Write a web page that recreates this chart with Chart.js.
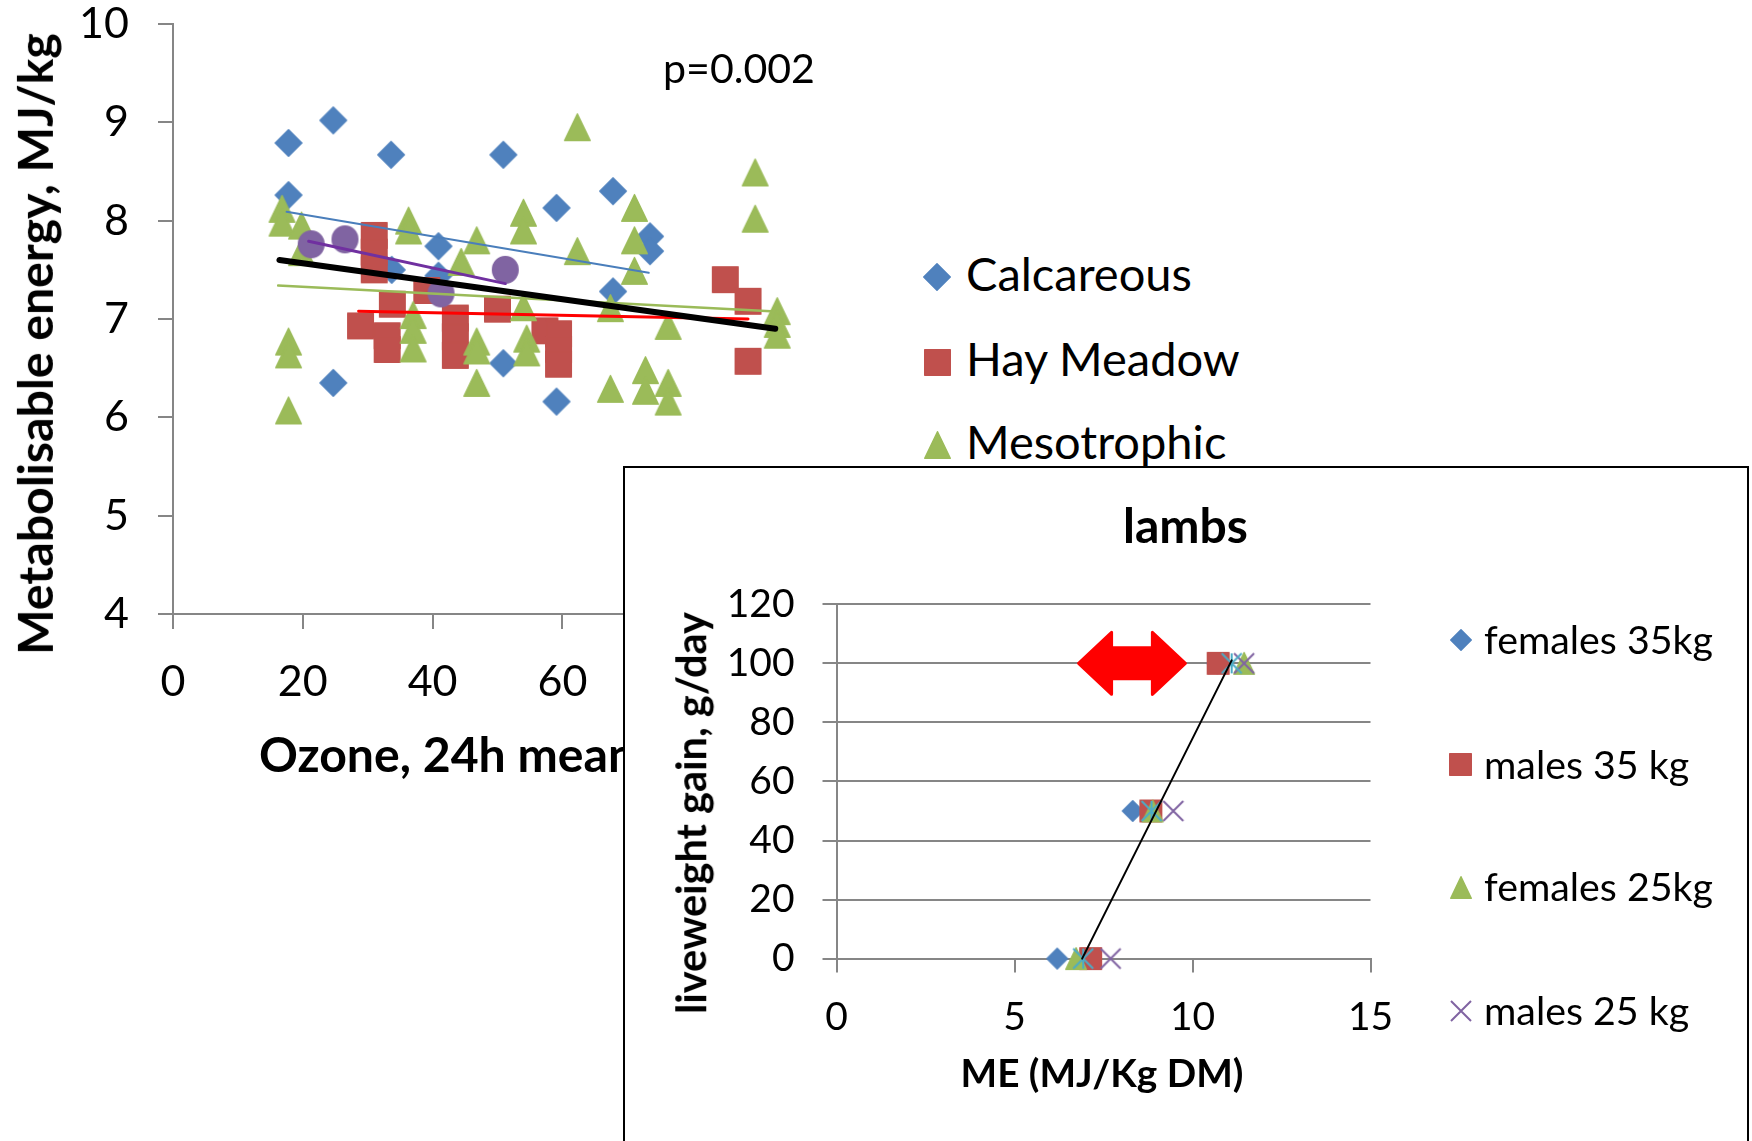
<!DOCTYPE html>
<html>
<head>
<meta charset="utf-8">
<script src="https://cdn.jsdelivr.net/npm/chart.js@4.4.1/dist/chart.umd.min.js"></script>
<style>
html,body{margin:0;padding:0;background:#fff;}
body{width:1752px;height:1141px;position:relative;overflow:hidden;font-family:Lato,"DejaVu Sans",sans-serif;}
#mainWrap{position:absolute;left:0;top:-40px;width:900px;height:860px;z-index:0;}
#inset{position:absolute;left:623px;top:466px;width:1122px;height:700px;border:2px solid #000;background:#fff;z-index:5;}
#insetWrap{position:absolute;left:0;top:0;width:1122px;height:680px;}
.t{position:absolute;white-space:nowrap;line-height:1;color:#000;font-family:Lato,"DejaVu Sans",sans-serif;}
.mk{position:absolute;}
</style>
</head>
<body>
<div id="mainWrap"><canvas id="mainChart" width="900" height="860"></canvas></div>
<div id="inset"><div id="insetWrap"><canvas id="insetChart" width="1122" height="680"></canvas></div></div>
<script>
// ---------------- DATA: main chart (ozone vs metabolisable energy) ----------------
const mainSeriesNames = ['Calcareous', 'Hay Meadow', 'Mesotrophic'];
const xTicksMain = [0, 20, 40, 60, 80, 100];
const yTicksMain = [4, 5, 6, 7, 8, 9, 10];

const calcOzone = [17.8, 17.8, 24.7, 24.7, 33.6, 33.7, 40.9, 40.9, 50.9, 50.9, 59.1, 59.1, 67.8, 67.8, 73.5, 73.5];
const calcME    = [8.79, 8.26, 9.02, 6.35, 8.67, 7.50, 7.74, 7.44, 8.67, 6.55, 8.13, 6.16, 8.30, 7.28, 7.84, 7.69];

const hayOzone = [28.9, 31.0, 31.0, 31.0, 33.0, 33.0, 33.8, 39.1, 43.5, 43.5, 43.5, 50.0, 57.3, 59.4, 59.4, 59.4, 85.1, 88.6, 88.6];
const hayME    = [6.93, 7.85, 7.68, 7.50, 6.83, 6.69, 7.15, 7.29, 7.01, 6.82, 6.63, 7.10, 6.88, 6.85, 6.69, 6.54, 7.40, 7.18, 6.57];

const mesoOzone = [16.8, 16.8, 19.8, 19.8, 17.8, 17.8, 17.8, 36.3, 36.3, 37.0, 37.0, 37.0, 44.4, 46.8, 46.8, 46.8, 46.8,
                   54.0, 54.0, 54.0, 54.5, 54.5, 62.3, 62.3, 67.4, 67.4, 71.1, 71.1, 71.1, 72.8, 72.8, 76.3, 76.3, 76.3,
                   89.7, 89.7, 93.1, 93.1, 93.1];
const mesoME    = [8.12, 7.98, 7.95, 7.68, 6.77, 6.64, 6.07, 8.00, 7.90, 7.04, 6.89, 6.70, 7.58, 7.80, 6.77, 6.68, 6.35,
                   8.08, 7.90, 7.12, 6.80, 6.66, 8.95, 7.69, 7.11, 6.29, 8.13, 7.80, 7.49, 6.48, 6.27, 6.93, 6.35, 6.16,
                   8.49, 8.02, 7.08, 6.95, 6.84];

const fourthOzone = [21.3, 26.5, 41.3, 51.2];
const fourthME    = [7.76, 7.81, 7.26, 7.50];

// trend lines (end points)
const calcTrendX = [17.5, 73.3],  calcTrendY = [8.09, 7.47];
const hayTrendX  = [28.6, 88.6],  hayTrendY  = [7.08, 7.00];
const mesoTrendX = [16.2, 92.1],  mesoTrendY = [7.34, 7.08];
const fourthTrendX = [20.9, 51.2], fourthTrendY = [7.79, 7.36];
const allTrendX  = [16.4, 92.8],  allTrendY  = [7.60, 6.90];
const pValueText = 'p=0.002';

// ---------------- DATA: inset chart (lambs) ----------------
const insetSeriesNames = ['females 35kg', 'males 35 kg', 'females 25kg', 'males 25 kg'];
const xTicksInset = [0, 5, 10, 15];
const yTicksInset = [0, 20, 40, 60, 80, 100, 120];
const gainLevels = [0, 50, 100];
const fem35ME  = [6.20, 8.32, 10.70];
const male35ME = [7.14, 8.83, 10.72];
const fem25ME  = [6.73, 8.88, 11.45];
const male25ME = [7.70, 9.46, 11.45];
const fifthME  = [6.93, 8.85, 11.10];
const fitLineME = [6.9, 11.1], fitLineGain = [0, 101];
const arrowME = [6.8, 9.8], arrowGain = 100;

// ---------------- helpers ----------------
const AXIS_GRAY = '#868686';
const pts = (xs, ys) => xs.map((x, i) => ({x: x, y: ys[i]}));

function marker(shape, w, h, color, lw) {
  const pad = 3;
  const c = document.createElement('canvas');
  c.width = Math.ceil(w + pad * 2); c.height = Math.ceil(h + pad * 2);
  const g = c.getContext('2d');
  const cx = c.width / 2, cy = c.height / 2;
  g.fillStyle = color; g.strokeStyle = color; g.lineJoin = 'round'; g.lineCap = 'butt';
  const sw = 1.5; // soft edge
  g.lineWidth = sw;
  const W = w - sw, H = h - sw;
  g.beginPath();
  if (shape === 'diamond') {
    g.moveTo(cx, cy - H / 2); g.lineTo(cx + W / 2, cy); g.lineTo(cx, cy + H / 2); g.lineTo(cx - W / 2, cy); g.closePath();
    g.fill(); g.stroke();
  } else if (shape === 'square') {
    g.rect(cx - W / 2, cy - H / 2, W, H); g.fill(); g.stroke();
  } else if (shape === 'triangle') {
    g.moveTo(cx, cy - H / 2); g.lineTo(cx + W / 2, cy + H / 2); g.lineTo(cx - W / 2, cy + H / 2); g.closePath();
    g.fill(); g.stroke();
  } else if (shape === 'circle') {
    g.ellipse(cx, cy, W / 2, H / 2, 0, 0, Math.PI * 2); g.fill(); g.stroke();
  } else if (shape === 'x' || shape === 'star') {
    g.lineWidth = lw || 2;
    g.moveTo(cx - w / 2, cy - h / 2); g.lineTo(cx + w / 2, cy + h / 2);
    g.moveTo(cx + w / 2, cy - h / 2); g.lineTo(cx - w / 2, cy + h / 2);
    if (shape === 'star') { g.moveTo(cx, cy - h / 2); g.lineTo(cx, cy + h / 2); }
    g.stroke();
  }
  return c;
}

const C_BLUE = '#4F81BD', C_RED = '#C0504D', C_GREEN = '#9BBB59', C_PURPLE = '#8064A2', C_CYAN = '#4BACC6';

const mDia = marker('diamond', 28, 28, C_BLUE);
const mSq  = marker('square', 27, 27, C_RED);
const mTri = marker('triangle', 27, 28, C_GREEN);
const mCir = marker('circle', 27, 28, C_PURPLE);

const iDia = marker('diamond', 22, 22, C_BLUE);
const iSq  = marker('square', 23, 23, C_RED);
const iTri = marker('triangle', 22, 23, C_GREEN);
const iX   = marker('x', 20, 20, C_PURPLE, 2);
const iStar = marker('star', 20, 20, C_CYAN, 2);

Chart.defaults.font.family = 'Lato';
Chart.defaults.color = '#000';

function lineDs(label, xs, ys, color, width, order) {
  return {label: label, data: pts(xs, ys), showLine: true, borderColor: color, backgroundColor: color,
          borderWidth: width, pointRadius: 0, pointHoverRadius: 0, order: order, borderCapStyle: 'round', clip: false};
}
function markDs(label, xs, ys, img, order) {
  return {label: label, data: pts(xs, ys), pointStyle: img, pointRadius: 10, pointHoverRadius: 10, order: order, clip: false};
}
function axis(min, max, ticks, fontSize, pad, tickLen, onArea, fitProp, fitVal) {
  return {
    type: 'linear', min: min, max: max,
    afterBuildTicks: s => { s.ticks = ticks.map(v => ({value: v})); },
    ticks: {font: {size: fontSize, family: 'Lato'}, color: '#000', padding: pad, autoSkip: false, maxRotation: 0},
    grid: {drawOnChartArea: onArea, drawTicks: true, tickLength: tickLen, tickWidth: 2, tickColor: AXIS_GRAY, color: AXIS_GRAY, lineWidth: 2},
    border: {display: true, color: AXIS_GRAY, width: 2},
    afterFit: s => { s[fitProp] = fitVal; }
  };
}

// ---------------- main chart ----------------
new Chart(document.getElementById('mainChart'), {
  type: 'scatter',
  data: {datasets: [
    lineDs('all sites trend', allTrendX, allTrendY, '#000000', 6, 0),
    lineDs('', fourthTrendX, fourthTrendY, '#7030A0', 3, 1),
    lineDs(mainSeriesNames[2] + ' trend', mesoTrendX, mesoTrendY, '#9BBB59', 2.5, 2),
    lineDs(mainSeriesNames[1] + ' trend', hayTrendX, hayTrendY, '#FF0000', 3, 3),
    lineDs(mainSeriesNames[0] + ' trend', calcTrendX, calcTrendY, '#4A7EBB', 2, 4),
    markDs('', fourthOzone, fourthME, mCir, 5),
    markDs(mainSeriesNames[2], mesoOzone, mesoME, mTri, 6),
    markDs(mainSeriesNames[1], hayOzone, hayME, mSq, 7),
    markDs(mainSeriesNames[0], calcOzone, calcME, mDia, 8)
  ]},
  options: {
    responsive: false, devicePixelRatio: 1, animation: false, events: [],
    layout: {padding: {left: 0, top: 64, right: 78, bottom: 0}},
    plugins: {legend: {display: false}, tooltip: {enabled: false}},
    scales: {
      x: axis(0, 100, xTicksMain, 43, 27, 15, false, 'height', 206),
      y: axis(4, 10, yTicksMain, 43, 29, 15, false, 'width', 173)
    }
  }
});

// ---------------- inset chart ----------------
const arrowPlugin = {
  id: 'rangeArrow',
  afterDatasetsDraw(chart) {
    const ctx = chart.ctx, xs = chart.scales.x, ys = chart.scales.y;
    const x1 = xs.getPixelForValue(arrowME[0]), x2 = xs.getPixelForValue(arrowME[1]);
    const yc = ys.getPixelForValue(arrowGain);
    const hl = 33, hh = 31, sh = 15.5;
    ctx.save();
    ctx.beginPath();
    ctx.moveTo(x1, yc); ctx.lineTo(x1 + hl, yc - hh); ctx.lineTo(x1 + hl, yc - sh); ctx.lineTo(x2 - hl, yc - sh);
    ctx.lineTo(x2 - hl, yc - hh); ctx.lineTo(x2, yc); ctx.lineTo(x2 - hl, yc + hh); ctx.lineTo(x2 - hl, yc + sh);
    ctx.lineTo(x1 + hl, yc + sh); ctx.lineTo(x1 + hl, yc + hh); ctx.closePath();
    ctx.fillStyle = '#FF0000'; ctx.strokeStyle = '#FF0000'; ctx.lineWidth = 3; ctx.lineJoin = 'round';
    ctx.fill(); ctx.stroke();
    ctx.restore();
  }
};

new Chart(document.getElementById('insetChart'), {
  type: 'scatter',
  data: {datasets: [
    lineDs('', fitLineME, fitLineGain, '#000000', 2, 0),
    markDs('', fifthME, gainLevels, iStar, 1),
    markDs(insetSeriesNames[3], male25ME, gainLevels, iX, 2),
    markDs(insetSeriesNames[2], fem25ME, gainLevels, iTri, 3),
    markDs(insetSeriesNames[1], male35ME, gainLevels, iSq, 4),
    markDs(insetSeriesNames[0], fem35ME, gainLevels, iDia, 5)
  ]},
  options: {
    responsive: false, devicePixelRatio: 1, animation: false, events: [],
    layout: {padding: {left: 0, top: 136.3, right: 376.5, bottom: 0}},
    plugins: {legend: {display: false}, tooltip: {enabled: false}},
    scales: {
      x: axis(0, 15, xTicksInset, 39, 21, 14, false, 'height', 189.4),
      y: axis(0, 120, yTicksInset, 39, 28, 14, true, 'width', 211.5)
    }
  },
  plugins: [arrowPlugin]
});

// ---------------- texts & legends (HTML) ----------------
const mctx = document.createElement('canvas').getContext('2d');
function fitSize(str, bold, target) {
  mctx.font = (bold ? '700 ' : '400 ') + '100px Lato';
  return 100 * target / mctx.measureText(str).width;
}
function addText(str, o) {
  const d = document.createElement('div');
  d.className = 't';
  d.textContent = str;
  d.style.fontSize = o.fs + 'px';
  d.style.fontWeight = o.bold ? '700' : '400';
  d.style.zIndex = o.z;
  if (o.rot) {
    d.style.left = (o.cx - 0.03 * o.fs) + 'px';
    d.style.top = o.cy + 'px';
    d.style.transform = 'translate(-50%,-50%) rotate(-90deg)';
  } else if (o.cx !== undefined) {
    d.style.left = o.cx + 'px';
    d.style.top = (o.cy - 0.53 * o.fs) + 'px';
    d.style.transform = 'translateX(-50%)';
  } else {
    d.style.left = o.x + 'px';
    d.style.top = (o.cy - 0.53 * o.fs) + 'px';
  }
  document.body.appendChild(d);
}
function addMarker(img, cx, cy, z) {
  const c = document.createElement('canvas');
  c.width = img.width; c.height = img.height; c.className = 'mk';
  c.getContext('2d').drawImage(img, 0, 0);
  c.style.left = (cx - img.width / 2) + 'px';
  c.style.top = (cy - img.height / 2) + 'px';
  c.style.zIndex = z;
  document.body.appendChild(c);
}

// main chart texts (below the inset)
const fsP = fitSize(pValueText, false, 152);
addText(pValueText, {x: 663, cy: 69, fs: fsP, z: 1});
const yTitleMain = 'Metabolisable energy, MJ/kg';
const fsTitleMain = fitSize(yTitleMain, true, 622);
addText(yTitleMain, {cx: 35, cy: 344, fs: fsTitleMain, bold: true, rot: true, z: 1});
addText('Ozone, 24h mean', {x: 259, cy: 755, fs: fsTitleMain, bold: true, z: 1});
const fsLeg = fitSize(mainSeriesNames[0], false, 226);
const mainLegY = [275, 360, 443];
const mainLegImg = [mDia, mSq, mTri];
mainSeriesNames.forEach((n, i) => {
  addText(n, {x: 966, cy: mainLegY[i], fs: fsLeg, z: 1});
  addMarker(mainLegImg[i], 937, mainLegY[i] + 2, 1);
});

// inset texts (above the inset box)
addText('lambs', {cx: 1185.5, cy: 526, fs: fitSize('lambs', true, 125), bold: true, z: 10});
const yTitleInset = 'liveweight gain, g/day';
addText(yTitleInset, {cx: 692, cy: 813, fs: fitSize(yTitleInset, true, 402), bold: true, rot: true, z: 10});
const xTitleInset = 'ME (MJ/Kg DM)';
addText(xTitleInset, {cx: 1102, cy: 1074, fs: fitSize(xTitleInset, true, 283), bold: true, z: 10});
const fsILeg = fitSize(insetSeriesNames[0], false, 229);
const insetLegY = [640, 764.7, 887, 1011];
const insetLegImg = [iDia, iSq, iTri, iX];
insetSeriesNames.forEach((n, i) => {
  addText(n, {x: 1484, cy: insetLegY[i], fs: fsILeg, z: 10});
  addMarker(insetLegImg[i], 1460.5, insetLegY[i], 10);
});
</script>
</body>
</html>
